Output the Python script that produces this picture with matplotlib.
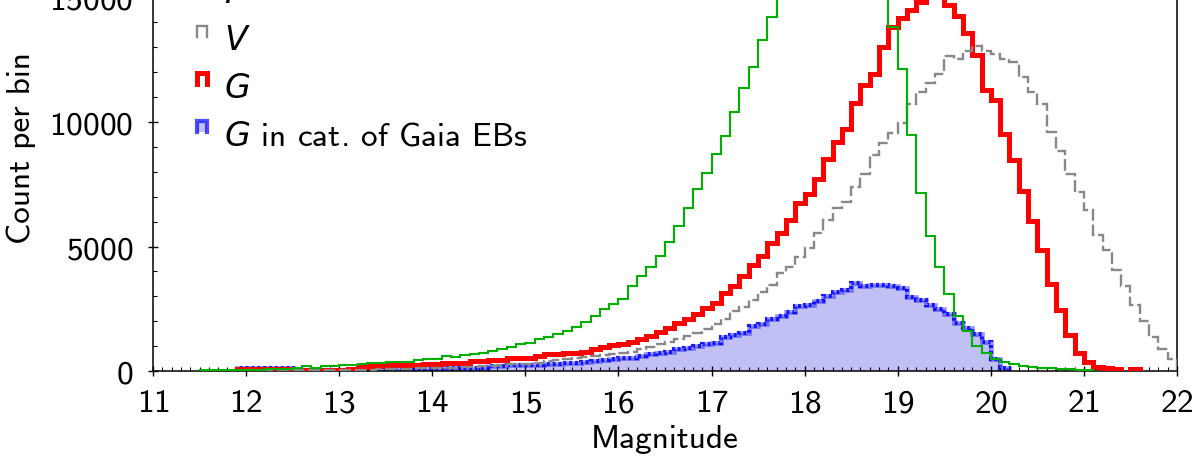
import numpy as np
import matplotlib
matplotlib.use("Agg")
import matplotlib.pyplot as plt
from matplotlib.lines import Line2D
from matplotlib.patches import Rectangle
from matplotlib.ticker import MultipleLocator

plt.rcParams["font.family"] = "cmss10"
plt.rcParams["mathtext.fontset"] = "custom"
plt.rcParams["mathtext.rm"] = "cmss10"
plt.rcParams["mathtext.it"] = "DejaVu Sans:italic"
plt.rcParams["axes.formatter.use_mathtext"] = True

# histogram bins: 0.1 mag wide, 11.5 .. 22.0
bin_start = 11.5
bin_width = 0.1
n_bins = 105
nan = np.nan

# I band (green), one value per bin
count_I = [
    40, 40, 40, 50, 60, 50, 50, 70, 80, 100,
    130, 190, 140, 190, 200, 240, 240, 290, 320, 330,
    370, 370, 380, 440, 470, 470, 600, 560, 660, 670,
    730, 800, 900, 970, 1070, 1130, 1270, 1370, 1500, 1600,
    1770, 1980, 2200, 2470, 2710, 2910, 3400, 3800, 4160, 4630,
    5200, 5830, 6530, 7290, 7970, 8700, 9420, 10420, 11370, 12200,
    13290, 14220, 15300, 16200, 17000, 17700, 18300, 18800, 19100, 19300,
    19400, 19200, 18600, 16800, 13800, 12130, 9470, 7130, 5440, 4160,
    3090, 2200, 1600, 1000, 730, 500, 350, 270, 200, 160,
    130, 110, 70, 70, 60, 60, nan, nan, nan, nan,
    nan, nan, nan, nan, nan,
]

# V band (grey dashed)
count_V = [
    20, 20, 20, 20, 20, 30, 30, 30, 30, 30,
    30, 30, 30, 30, 30, 40, 50, 50, 60, 70,
    80, 90, 100, 110, 120, 133, 133, 140, 150, 170,
    200, 200, 260, 270, 270, 300, 330, 400, 440, 500,
    510, 570, 600, 630, 690, 730, 770, 870, 960, 1070,
    1160, 1270, 1400, 1530, 1670, 1870, 2090, 2400, 2570, 2870,
    3170, 3470, 3930, 4160, 4590, 4930, 5530, 6070, 6530, 6800,
    7400, 7910, 8670, 9160, 9560, 9960, 10710, 11200, 11560, 11930,
    12670, 12530, 12840, 13070, 12870, 12730, 12530, 12400, 11800, 11200,
    10710, 9600, 8840, 7930, 7200, 6470, 5470, 4870, 4070, 3430,
    2670, 2000, 1360, 890, 490,
]

# G band (red)
count_G = [
    nan, nan, nan, nan, 100, 100, 100, 100, 100, 100,
    50, 50, 50, 50, 60, 60, 80, 150, 200, 200,
    230, 230, 230, 230, 270, 270, 310, 310, 330, 400,
    400, 440, 440, 530, 530, 530, 600, 670, 670, 730,
    730, 760, 870, 960, 1040, 1090, 1170, 1270, 1400, 1560,
    1730, 1930, 2070, 2270, 2530, 2730, 3130, 3430, 3800, 4270,
    4600, 5130, 5530, 6070, 6750, 7090, 7730, 8530, 9200, 9730,
    10760, 11470, 11910, 13000, 13800, 14170, 14490, 14820, 15150, 15250,
    14700, 14260, 13570, 12690, 11290, 10880, 9500, 8470, 7240, 6040,
    4840, 3510, 2440, 1430, 730, 360, 160, 110, 90, nan,
    90, nan, nan, nan, nan,
]

# G of sources in the catalogue of Gaia EBs (blue, filled)
count_EB = [
    nan, nan, nan, nan, 130, 130, 130, 130, 130, 130,
    60, 60, 60, 60, 60, 60, 60, 60, 60, 60,
    90, 90, 90, 90, 90, 90, 130, 130, 130, 130,
    130, 200, 200, 230, 230, 240, 240, 270, 300, 330,
    340, 360, 400, 440, 490, 510, 530, 600, 670, 730,
    770, 870, 930, 1000, 1070, 1130, 1370, 1430, 1530, 1800,
    1870, 2070, 2200, 2370, 2600, 2670, 2800, 3000, 3160, 3270,
    3530, 3430, 3440, 3470, 3430, 3330, 2960, 2870, 2670, 2470,
    2270, 1930, 1730, 1470, 1160, 470, 130, nan, nan, nan,
    nan, nan, nan, nan, nan, nan, nan, nan, nan, nan,
    nan, nan, nan, nan, nan,
]

legend_labels = ["$I$", "$V$", "$G$", "$G$ in cat. of Gaia EBs"]

edges = bin_start + bin_width * np.arange(n_bins + 1)

GREEN = "#00b000"
GREY = "#888888"
RED = "#ff0000"
BLUE = "#0000ff"
LAVENDER = "#c0c0f4"


def draw_hist(ax, values, **kw):
    """Step outline of the non-empty runs of a histogram."""
    v = np.asarray(values, dtype=float)
    ok = ~np.isnan(v)
    i = 0
    while i < len(v):
        if not ok[i]:
            i += 1
            continue
        j = i
        while j < len(v) and ok[j]:
            j += 1
        ax.stairs(v[i:j], edges[i:j + 1], baseline=0, **kw)
        i = j


W, H = 1196, 460
fig = plt.figure(figsize=(W / 100, H / 100), dpi=100)
# the axes run off the top of the figure, like the cropped original
ax = fig.add_axes([153 / W, 88 / H, 1024 / W, 498 / H])
ax.set_xlim(11, 22)
ax.set_ylim(0, 20000)

draw_hist(ax, count_EB, fill=True, facecolor=LAVENDER, edgecolor="none", zorder=1)
draw_hist(ax, count_EB, color=BLUE, alpha=0.4, lw=3.4, joinstyle="miter", zorder=2)
draw_hist(ax, count_EB, color=BLUE, alpha=0.85, lw=3.0, linestyle=(0, (0.7, 0.7)),
          joinstyle="miter", zorder=2.1)
draw_hist(ax, count_G, color=RED, lw=3.6, joinstyle="miter", zorder=3)
draw_hist(ax, count_V, color=GREY, lw=1.7, linestyle=(0, (5, 1.6)),
          joinstyle="miter", zorder=4)
draw_hist(ax, count_I, color=GREEN, lw=1.5, joinstyle="miter", zorder=5)

ax.xaxis.set_major_locator(MultipleLocator(1))
ax.xaxis.set_minor_locator(MultipleLocator(0.1))
ax.yaxis.set_major_locator(MultipleLocator(5000))
ax.yaxis.set_minor_locator(MultipleLocator(1000))
ax.tick_params(which="major", direction="inout", length=7, width=1.0,
               labelsize=24, color="black")
ax.tick_params(which="minor", direction="in", length=3, width=0.8)
ax.tick_params(axis="x", which="major", pad=9)
ax.tick_params(axis="y", which="major", pad=11)
ax.spines["top"].set_visible(False)
for side in ("left", "bottom", "right"):
    ax.spines[side].set_linewidth(1.1)

ax.set_xlabel("Magnitude", fontsize=24)
ax.set_ylabel("Count per bin", fontsize=24)
ax.xaxis.set_label_coords(0.5, -0.106)
ax.yaxis.set_label_coords(-0.114, 0.45)

# legend: small step icons, drawn in figure pixels
styles = [
    dict(color=GREEN, lw=1.5, fill=None),
    dict(color=GREY, lw=1.7, fill=None),
    dict(color=RED, lw=3.6, fill=None),
    dict(color=BLUE, lw=3.0, fill=LAVENDER),
]
to_fig = lambda x, y: (x / W, 1 - y / H)
for k, (label, st) in enumerate(zip(legend_labels, styles)):
    base = 3 + 47.5 * k
    x0, x1 = 197, 207
    y0, y1 = base - 13, base - 24
    if st["fill"]:
        fig.add_artist(Rectangle(to_fig(x0, y0), (x1 - x0) / W, (y0 - y1) / H,
                                 transform=fig.transFigure, facecolor=st["fill"],
                                 edgecolor="none"))
    xs, ys = zip(*[to_fig(x0, y0), to_fig(x0, y1), to_fig(x1, y1), to_fig(x1, y0)])
    fig.add_artist(Line2D(xs, ys, transform=fig.transFigure, color=st["color"],
                          lw=st["lw"], alpha=0.7 if st["fill"] else 1.0,
                          solid_joinstyle="miter"))
    fig.text(*to_fig(224, base), label, fontsize=24, va="baseline", ha="left")

fig.savefig("out.png", dpi=100)
